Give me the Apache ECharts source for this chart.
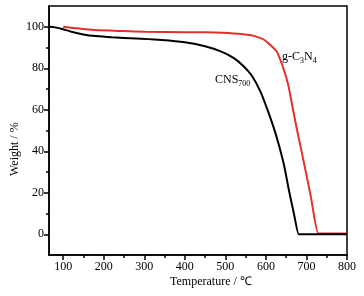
<!DOCTYPE html>
<html>
<head>
<meta charset="utf-8">
<script src="https://cdn.jsdelivr.net/npm/echarts@6/dist/echarts.min.js"></script>
<style>
  html, body { margin: 0; padding: 0; background: #fff; }
  #chart { width: 364px; height: 296px; }
</style>
</head>
<body>
<div id="chart"></div>
<script>
// TGA curves
const cnsTemp = [66, 80, 100, 120, 150, 180, 220, 280, 343, 400, 450, 490, 520, 545, 565, 586, 602, 619, 632, 645, 657, 669, 681, 682, 800];
const cnsWeight = [100, 99.7, 98.8, 97.6, 96.3, 95.5, 94.9, 94.3, 93.6, 92.5, 90.6, 88, 85, 81, 76.5, 69, 61, 51.5, 43, 33, 21, 10, 0, 0, 0];
const gcnTemp = [100, 130, 179, 250, 302, 400, 450, 520, 561, 590, 602, 615, 627, 643, 655, 665, 676, 690, 710, 729, 730, 800];
const gcnWeight = [100, 99.3, 98.4, 97.9, 97.6, 97.4, 97.3, 96.8, 96, 94.3, 92.8, 90.5, 88, 80, 72, 62, 51, 38, 19, 0.4, 0.4, 0.4];

const xTicks = [100, 200, 300, 400, 500, 600, 700, 800];
const xMinorTicks = [150, 250, 350, 450, 550, 650, 750];
const yTicks = [0, 20, 40, 60, 80, 100];
const yMinorTicks = [10, 30, 50, 70, 90];

const font = 'Liberation Serif, Times New Roman, serif';
const axisLine = { onZero: false, lineStyle: { color: '#000', width: 1.5 } };
const noLine = { show: false, onZero: false };

function pairs(xs, ys) {
  return xs.map((x, i) => [x, ys[i]]);
}

const myChart = echarts.init(document.getElementById('chart'));

myChart.setOption({
  animation: false,
  grid: {
    left: 49, right: 17, top: 6, bottom: 41,
    show: true, borderColor: '#000', borderWidth: 1.5
  },
  xAxis: [
    {
      type: 'value', min: 65, max: 800, position: 'bottom',
      axisLine: axisLine,
      splitLine: { show: false },
      axisTick: { customValues: xTicks, length: 5, lineStyle: { color: '#000', width: 1.5 } },
      axisLabel: { customValues: xTicks, color: '#000', fontFamily: font, fontSize: 12, margin: 6 }
    },
    {
      type: 'value', min: 65, max: 800, position: 'bottom',
      axisLine: noLine,
      splitLine: { show: false },
      axisTick: { customValues: xMinorTicks, length: 3, lineStyle: { color: '#000', width: 1.5 } },
      axisLabel: { show: false }
    }
  ],
  yAxis: [
    {
      type: 'value', min: -10, max: 110, position: 'left',
      axisLine: axisLine,
      splitLine: { show: false },
      axisTick: { customValues: yTicks, length: 5, lineStyle: { color: '#000', width: 1.5 } },
      axisLabel: { customValues: yTicks, color: '#000', fontFamily: font, fontSize: 12, margin: 5 }
    },
    {
      type: 'value', min: -10, max: 110, position: 'left',
      axisLine: noLine,
      splitLine: { show: false },
      axisTick: { customValues: yMinorTicks, length: 3, lineStyle: { color: '#000', width: 1.5 } },
      axisLabel: { show: false }
    }
  ],
  series: [
    {
      name: 'CNS700', type: 'line', xAxisIndex: 0, yAxisIndex: 0,
      data: pairs(cnsTemp, cnsWeight), showSymbol: false,
      smooth: 0.25,
      lineStyle: { color: '#000', width: 2 }, z: 3
    },
    {
      name: 'g-C3N4', type: 'line', xAxisIndex: 0, yAxisIndex: 0,
      data: pairs(gcnTemp, gcnWeight), showSymbol: false,
      smooth: 0.25,
      lineStyle: { color: '#e2302c', width: 2 }, z: 2
    }
  ],
  graphic: [
    {
      type: 'text', left: 170, top: 276,
      style: { text: 'Temperature / ℃', font: '12px ' + font, fill: '#000' }
    },
    {
      type: 'text', x: 9, y: 176, rotation: Math.PI / 2,
      style: { text: 'Weight / %', font: '12px ' + font, fill: '#000' }
    },
    {
      type: 'text', left: 282, top: 51,
      style: {
        text: '{n|g-C}{s|3}{n|N}{s|4}',
        rich: {
          n: { font: '12px ' + font, fill: '#000' },
          s: { font: '8px ' + font, fill: '#000', padding: [8, 0, 0, 0] }
        }
      }
    },
    {
      type: 'text', left: 215, top: 74,
      style: {
        text: '{n|CNS}{s|700}',
        rich: {
          n: { font: '12px ' + font, fill: '#000' },
          s: { font: '8px ' + font, fill: '#000', padding: [8, 0, 0, 0] }
        }
      }
    }
  ]
});
</script>
</body>
</html>
